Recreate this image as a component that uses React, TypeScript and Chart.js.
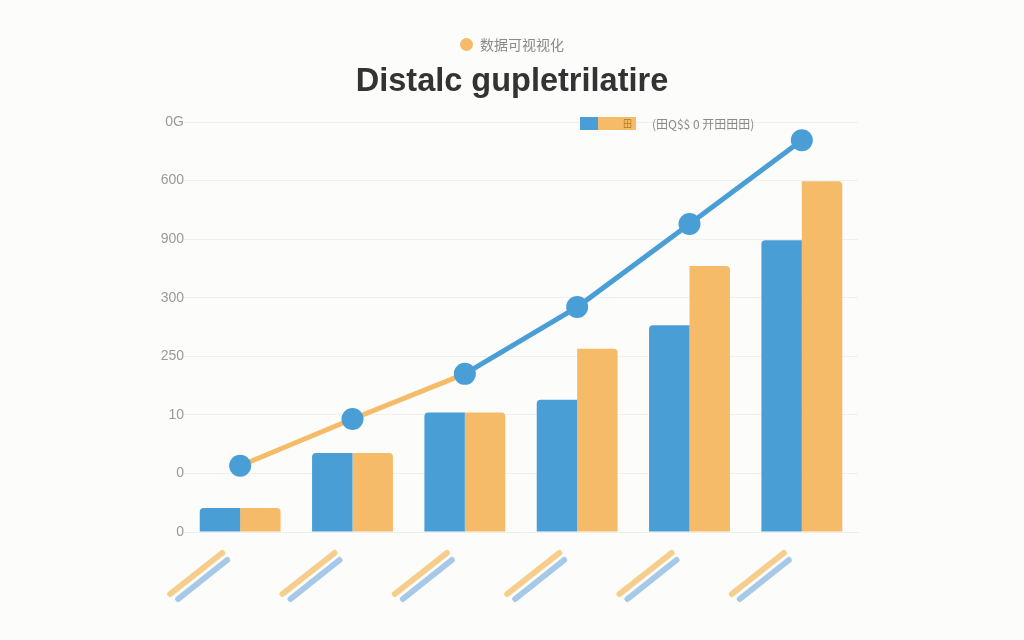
import React, { useEffect, useRef } from "react";
import { Chart, registerables } from "chart.js";

Chart.register(...registerables);

const categories = ["一", "二", "三", "四", "五", "六"];
const blueBars = [41, 135, 204, 226, 353, 498];
const orangeBars = [41, 135, 204, 313, 454, 599];
const lineValues = [113, 193, 270, 384, 526, 669];
const yTickLabels = ["0", "0", "10", "250", "300", "900", "600", "0G"];

const titleText = "Distalc gupletrilatire";
const subtitleText = "数据可视视化";
const legendText = "(田Q$$ 0 开田田田)";
const legendBoxText = "田";

const BLUE = "#4a9ed6";
const ORANGE = "#f5bb68";

const diagonalPlugin = {
  id: "diagonalLabels",
  afterDraw(chart: any) {
    const ctx = chart.ctx;
    const xs = chart.scales.x;
    const bottom = chart.chartArea.bottom;
    ctx.save();
    ctx.lineCap = "round";
    ctx.lineWidth = 6;
    categories.forEach((_, i) => {
      const x = xs.getPixelForValue(i);
      ctx.strokeStyle = "rgba(246,196,120,0.85)";
      ctx.beginPath();
      ctx.moveTo(x - 70, bottom + 62);
      ctx.lineTo(x - 18, bottom + 21);
      ctx.stroke();
      ctx.strokeStyle = "rgba(150,192,228,0.85)";
      ctx.beginPath();
      ctx.moveTo(x - 62, bottom + 67);
      ctx.lineTo(x - 13, bottom + 28);
      ctx.stroke();
    });
    ctx.restore();
  },
};

export default function App() {
  const ref = useRef<HTMLCanvasElement>(null);
  useEffect(() => {
    if (!ref.current) return;
    const chart = new Chart(ref.current, {
      type: "bar",
      data: {
        labels: categories,
        datasets: [
          {
            type: "line",
            label: "line",
            data: lineValues,
            borderColor: BLUE,
            backgroundColor: BLUE,
            borderWidth: 5,
            pointRadius: 11,
            pointBackgroundColor: BLUE,
            pointBorderWidth: 0,
            order: 0,
            segment: {
              borderColor: (c: any) => (c.p0DataIndex < 2 ? ORANGE : BLUE),
            },
          } as any,
          {
            label: "blue",
            data: blueBars,
            backgroundColor: BLUE,
            borderRadius: { topLeft: 4, topRight: 0, bottomLeft: 0, bottomRight: 0 },
            borderSkipped: false,
            barPercentage: 1,
            categoryPercentage: 0.72,
            order: 1,
          },
          {
            label: "orange",
            data: orangeBars,
            backgroundColor: ORANGE,
            borderRadius: { topLeft: 0, topRight: 4, bottomLeft: 0, bottomRight: 0 },
            borderSkipped: false,
            barPercentage: 1,
            categoryPercentage: 0.72,
            order: 2,
          },
        ],
      },
      options: {
        animation: false,
        responsive: false,
        layout: { padding: { left: 0, right: 166, top: 122, bottom: 100 } },
        plugins: { legend: { display: false }, tooltip: { enabled: false } },
        scales: {
          x: {
            ticks: { display: false },
            grid: { display: false },
            border: { display: true, color: "#eeeeee" },
          },
          y: {
            min: 0,
            max: 700,
            afterFit: (s: any) => {
              s.width = 184;
            },
            ticks: {
              stepSize: 100,
              padding: 0,
              color: "#9a9a9a",
              font: { family: "Liberation Sans", size: 14 },
              callback: (_v: any, i: number) => yTickLabels[i],
            },
            grid: { color: "#f0f0ef", drawTicks: false },
            border: { display: false },
          },
        },
      },
      plugins: [diagonalPlugin],
    } as any);
    return () => chart.destroy();
  }, []);

  return (
    <div
      style={{
        position: "fixed",
        left: 0,
        top: 0,
        width: 1024,
        height: 640,
        background: "#fcfcfb",
        fontFamily: "Liberation Sans, Arial, sans-serif",
      }}
    >
      <canvas ref={ref} width={1024} height={640} style={{ position: "absolute", left: 0, top: 0 }} />
      <div
        style={{
          position: "absolute",
          left: 0,
          width: 1024,
          top: 35,
          display: "flex",
          justifyContent: "center",
          alignItems: "center",
          gap: 7,
          fontFamily: "Noto Sans CJK SC",
          fontSize: 14,
          color: "#8a8a8a",
          lineHeight: "18px",
        }}
      >
        <span style={{ width: 13, height: 13, borderRadius: 7, background: ORANGE, display: "inline-block" }} />
        <span>{subtitleText}</span>
      </div>
      <div
        style={{
          position: "absolute",
          left: 0,
          width: 1024,
          top: 60,
          textAlign: "center",
          fontSize: 32.5,
          fontWeight: "bold",
          color: "#333333",
          lineHeight: "40px",
        }}
      >
        {titleText}
      </div>
      <div style={{ position: "absolute", left: 580, top: 117, width: 18, height: 13, background: BLUE }} />
      <div
        style={{
          position: "absolute",
          left: 598,
          top: 117,
          width: 38,
          height: 13,
          background: ORANGE,
          fontSize: 9,
          lineHeight: "13px",
          textAlign: "right",
          color: "#b5762a",
          fontFamily: "Noto Sans CJK SC",
          boxSizing: "border-box",
          paddingRight: 4,
        }}
      >
        {legendBoxText}
      </div>
      <div
        style={{
          position: "absolute",
          left: 652,
          top: 116,
          fontSize: 12,
          lineHeight: "16px",
          color: "#8a8a8a",
          fontFamily: "Noto Sans CJK SC",
        }}
      >
        {legendText}
      </div>
    </div>
  );
}
